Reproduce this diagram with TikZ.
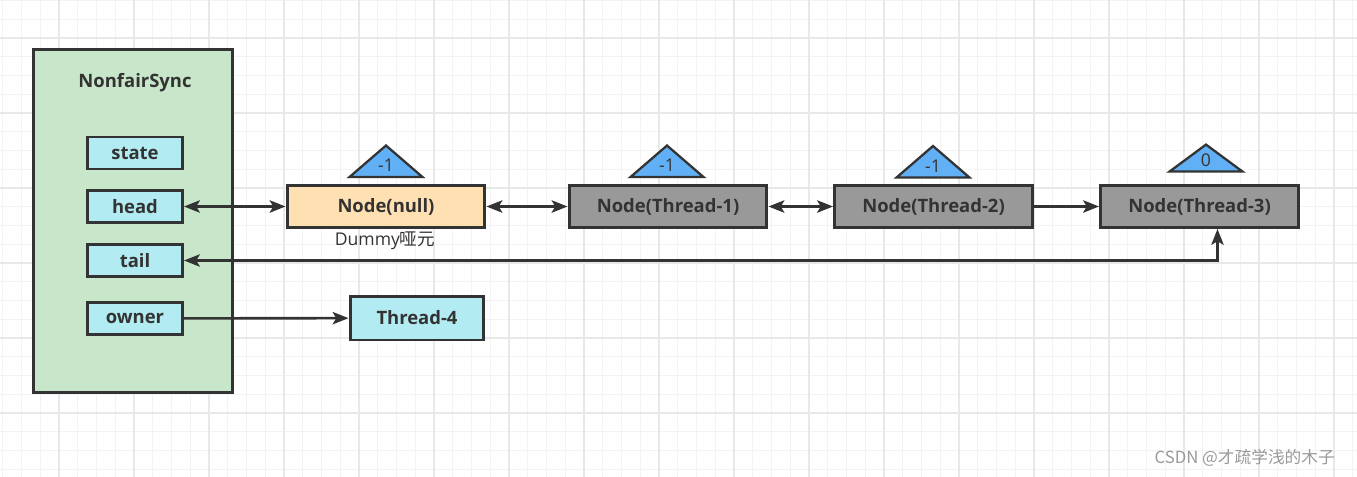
\documentclass[tikz,border=0pt]{standalone}
\usepackage{fontspec}
\setmainfont{Open Sans}
\newfontfamily\cjk{Noto Sans CJK SC}
\usepackage{tikz}
\usetikzlibrary{arrows.meta,positioning,calc,shapes.geometric}
\definecolor{syncgreen}{RGB}{200,230,201}
\definecolor{fieldcyan}{RGB}{178,235,242}
\definecolor{dummyorange}{RGB}{255,224,178}
\definecolor{qgray}{RGB}{153,153,153}
\definecolor{flagblue}{RGB}{97,176,245}
\definecolor{edgedark}{RGB}{51,51,51}
\definecolor{gridminor}{RGB}{243,243,243}
\definecolor{gridmajor}{RGB}{232,232,232}
\tikzset{
  syncbox/.style={
    rectangle, draw=edgedark, line width=1.7pt, fill=syncgreen,
    minimum width=4cm, minimum height=6.88cm
  },
  fieldbox/.style={
    rectangle, draw=edgedark, line width=1.7pt, fill=fieldcyan,
    minimum width=1.9cm, minimum height=0.64cm, text centered,
    font=\fontsize{10.5}{12}\selectfont\bfseries, text=edgedark
  },
  qnode/.style={
    rectangle, draw=edgedark, line width=1.7pt, fill=qgray,
    minimum width=3.96cm, minimum height=0.84cm, text centered,
    font=\fontsize{10.5}{12}\selectfont\bfseries, text=edgedark
  },
  flag/.style={
    isosceles triangle, shape border rotate=90, isosceles triangle stretches,
    draw=edgedark, line width=1.3pt, fill=flagblue, inner sep=0pt,
    minimum width=1.46cm, minimum height=0.54cm,
    font=\fontsize{10}{12}\selectfont, text=edgedark
  },
  link/.style={draw=edgedark, line width=1.5pt},
  tip/.tip={Stealth[length=9pt,width=7pt,inset=2pt]},
  onearrow/.style={link, -tip},
  twoarrow/.style={link, tip-tip}
}
\begin{document}
\begin{tikzpicture}[x=0.02cm, y=-0.02cm]
  \useasboundingbox (0,0) rectangle (1357,477);
  % background grid
  \foreach \i in {0,...,72} {
    \pgfmathsetmacro{\gx}{2.75+18.75*\i}
    \draw[gridminor, line width=0.5pt] (\gx,0) -- (\gx,477);
  }
  \foreach \j in {0,...,25} {
    \pgfmathsetmacro{\gy}{0.5+18.75*\j}
    \draw[gridminor, line width=0.5pt] (0,\gy) -- (1357,\gy);
  }
  \foreach \i in {0,...,18} {
    \draw[gridmajor, line width=0.6pt] (59-75+75*\i,0) -- (59-75+75*\i,477);
  }
  \foreach \j in {0,...,6} {
    \draw[gridmajor, line width=0.6pt] (0,38+75*\j) -- (1357,38+75*\j);
  }

  \node[syncbox] (sync) at (133,221) {};
  \node[font=\fontsize{10.5}{12}\selectfont\bfseries, text=edgedark] (title) at (135,83) {NonfairSync};
  \node[fieldbox] (state) at (135,153) {state};
  \node[fieldbox] (head) at (135,206.5) {head};
  \node[fieldbox] (tail) at (135,260.5) {tail};
  \node[fieldbox] (owner) at (135,318.5) {owner};

  \node[qnode, fill=dummyorange] (n0) at (386,206.5) {Node(null)};
  \node[qnode] (t1) at (668,206.5) {Node(Thread-1)};
  \node[qnode] (t2) at (933.5,206.5) {Node(Thread-2)};
  \node[qnode] (t3) at (1199.5,206.5) {Node(Thread-3)};
  \node[font=\fontsize{10}{12}\selectfont, text=edgedark] (dummy) at (385,241) {Dummy{\cjk 哑元}};
  \node[fieldbox, minimum width=2.68cm, minimum height=0.88cm] (t4) at (417,318) {Thread-4};

  \node[flag] (f0) at (386,165.5) {-1};
  \node[flag] (f1) at (667,165.5) {-1};
  \node[flag] (f2) at (933,166) {-1};
  \node[flag] (f3) at (1206,160.5) {0};

  \draw[twoarrow] (head) -- (n0);
  \draw[twoarrow] (n0) -- (t1);
  \draw[twoarrow] (t1) -- (t2);
  \draw[onearrow] (t2) -- (t3);
  \draw[twoarrow] (tail.east) -| ([xshift=0.36cm]t3.south);
  \draw[onearrow] (owner) -- (t4);

  \node[anchor=east, font=\fontsize{9.5}{11}\selectfont, text=black!40] (mark) at (1341,458) {\cjk CSDN @才疏学浅的木子};
\end{tikzpicture}
\end{document}
